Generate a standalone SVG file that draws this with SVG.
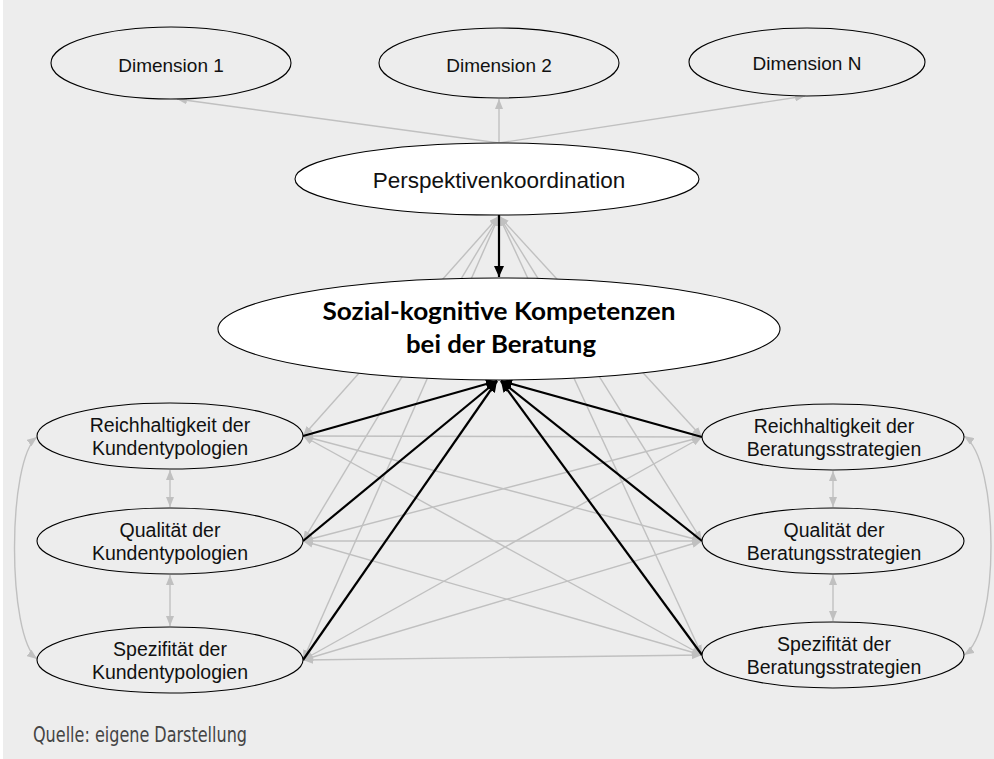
<svg xmlns="http://www.w3.org/2000/svg" width="994" height="759" viewBox="0 0 994 759">
  <defs>
    <style>
      .bg { fill: #ededed; }
      .node { fill: #ededed; stroke: #000; stroke-width: 1.1; }
      .node-w { fill: #fff; stroke: #000; stroke-width: 1.1; }
      .lbl { font-family: "Liberation Sans", Arial, sans-serif; fill: #111; text-anchor: middle; }
      .lbl-s { font-size: 19.5px; }
      .lbl-d { font-size: 19px; }
      .lbl-p { font-size: 22.5px; }
      .lbl-b { font-family: Lato, "Open Sans", sans-serif; font-weight: bold; font-size: 24px; fill: #000; text-anchor: middle; }
      .g2 { stroke: #c0c0c0; stroke-width: 1.4; fill: none; marker-start: url(#ag); marker-end: url(#ag); }
      .g1 { stroke: #c0c0c0; stroke-width: 1.4; fill: none; marker-end: url(#ag); }
      .k { stroke: #000; stroke-width: 2.2; fill: none; marker-end: url(#ak); }
      .src { font-family: "Liberation Sans Narrow", "DejaVu Sans Condensed", "Liberation Sans", sans-serif; font-size: 21px; fill: #444; }
    </style>
    <marker id="ag" markerUnits="userSpaceOnUse" markerWidth="10" markerHeight="8" refX="10" refY="4" orient="auto-start-reverse">
      <path d="M0,0 L10,4 L0,8 z" fill="#c0c0c0"/>
    </marker>
    <marker id="ak" markerUnits="userSpaceOnUse" markerWidth="11" markerHeight="10" refX="11" refY="5" orient="auto">
      <path d="M0,0 L11,5 L0,10 z" fill="#000"/>
    </marker>
  </defs>

  <rect class="bg" x="3" y="0" width="991" height="759"/>

  <g id="connectors">
    <!-- Perspektivenkoordination to the dimensions -->
    <line class="g1" x1="499" y1="143" x2="177" y2="99"/>
    <line class="g1" x1="499" y1="143" x2="499" y2="99"/>
    <line class="g1" x1="499" y1="143" x2="805" y2="96"/>

    <!-- lower nodes to Perspektivenkoordination -->
    <line class="g2" x1="303" y1="436" x2="499" y2="216"/>
    <line class="g2" x1="303" y1="541" x2="499" y2="216"/>
    <line class="g2" x1="303" y1="660" x2="499" y2="216"/>
    <line class="g2" x1="702" y1="437" x2="499" y2="216"/>
    <line class="g2" x1="702" y1="541" x2="499" y2="216"/>
    <line class="g2" x1="702" y1="655" x2="499" y2="216"/>

    <!-- cross links between Kundentypologien and Beratungsstrategien -->
    <line class="g2" x1="303" y1="436" x2="702" y2="437"/>
    <line class="g2" x1="303" y1="436" x2="702" y2="541"/>
    <line class="g2" x1="303" y1="436" x2="702" y2="655"/>
    <line class="g2" x1="303" y1="541" x2="702" y2="437"/>
    <line class="g2" x1="303" y1="541" x2="702" y2="541"/>
    <line class="g2" x1="303" y1="541" x2="702" y2="655"/>
    <line class="g2" x1="303" y1="660" x2="702" y2="437"/>
    <line class="g2" x1="303" y1="660" x2="702" y2="541"/>
    <line class="g2" x1="303" y1="660" x2="702" y2="655"/>

    <!-- links inside each column -->
    <line class="g2" x1="170" y1="470" x2="170" y2="507"/>
    <line class="g2" x1="170" y1="575" x2="170" y2="626"/>
    <line class="g2" x1="833" y1="471" x2="833" y2="507"/>
    <line class="g2" x1="833" y1="575" x2="833" y2="621"/>
    <path class="g2" d="M37 437 C7 460, 7 636, 37 659"/>
    <path class="g2" d="M964 436 C1000 460, 1000 632, 964 655"/>

    <!-- main effects -->
    <line class="k" x1="499" y1="215" x2="499" y2="277"/>
    <line class="k" x1="303" y1="436" x2="497" y2="381"/>
    <line class="k" x1="303" y1="541" x2="497" y2="381"/>
    <line class="k" x1="303" y1="660" x2="497" y2="381"/>
    <line class="k" x1="702" y1="437" x2="501" y2="381"/>
    <line class="k" x1="702" y1="541" x2="501" y2="381"/>
    <line class="k" x1="702" y1="655" x2="501" y2="381"/>
  </g>

  <g id="dim1">
    <ellipse class="node" cx="171" cy="63" rx="120" ry="36"/>
    <text class="lbl lbl-d" x="171" y="72">Dimension 1</text>
  </g>
  <g id="dim2">
    <ellipse class="node" cx="499" cy="63" rx="120" ry="35"/>
    <text class="lbl lbl-d" x="499" y="72">Dimension 2</text>
  </g>
  <g id="dimN">
    <ellipse class="node" cx="807" cy="62" rx="118" ry="34"/>
    <text class="lbl lbl-d" x="807" y="70">Dimension N</text>
  </g>

  <g id="perspektive">
    <ellipse class="node-w" cx="497" cy="179" rx="202" ry="36"/>
    <text class="lbl lbl-p" x="499" y="188">Perspektivenkoordination</text>
  </g>

  <g id="kompetenzen">
    <ellipse class="node-w" cx="499" cy="329" rx="281" ry="51"/>
    <text class="lbl-b" x="499" y="320" textLength="353" lengthAdjust="spacingAndGlyphs">Sozial-kognitive Kompetenzen</text>
    <text class="lbl-b" x="501" y="353" textLength="190" lengthAdjust="spacingAndGlyphs">bei der Beratung</text>
  </g>

  <g id="kunde-reich">
    <ellipse class="node" cx="170" cy="436" rx="133" ry="33"/>
    <text class="lbl lbl-s" x="170" y="432">Reichhaltigkeit der</text>
    <text class="lbl lbl-s" x="170" y="455">Kundentypologien</text>
  </g>
  <g id="kunde-qual">
    <ellipse class="node" cx="170" cy="541" rx="133" ry="33"/>
    <text class="lbl lbl-s" x="170" y="537">Qualität der</text>
    <text class="lbl lbl-s" x="170" y="560">Kundentypologien</text>
  </g>
  <g id="kunde-spez">
    <ellipse class="node" cx="170" cy="660" rx="133" ry="33"/>
    <text class="lbl lbl-s" x="170" y="656">Spezifität der</text>
    <text class="lbl lbl-s" x="170" y="679">Kundentypologien</text>
  </g>

  <g id="strat-reich">
    <ellipse class="node" cx="833" cy="437" rx="131" ry="33"/>
    <text class="lbl lbl-s" x="834" y="433">Reichhaltigkeit der</text>
    <text class="lbl lbl-s" x="834" y="456">Beratungsstrategien</text>
  </g>
  <g id="strat-qual">
    <ellipse class="node" cx="833" cy="541" rx="131" ry="33"/>
    <text class="lbl lbl-s" x="834" y="537">Qualität der</text>
    <text class="lbl lbl-s" x="834" y="560">Beratungsstrategien</text>
  </g>
  <g id="strat-spez">
    <ellipse class="node" cx="833" cy="655" rx="131" ry="33"/>
    <text class="lbl lbl-s" x="834" y="651">Spezifität der</text>
    <text class="lbl lbl-s" x="834" y="674">Beratungsstrategien</text>
  </g>

  <text class="src" x="33" y="742" textLength="214" lengthAdjust="spacingAndGlyphs">Quelle: eigene Darstellung</text>
</svg>
